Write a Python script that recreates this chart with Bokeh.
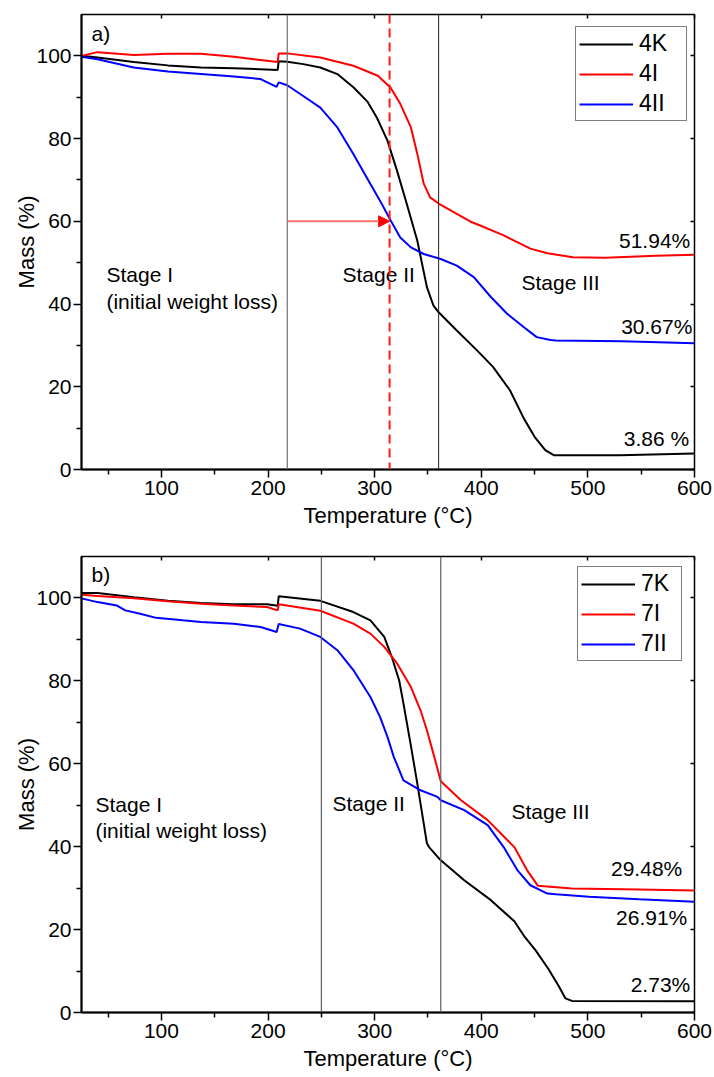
from bokeh.plotting import figure
from bokeh.models import (Span, Arrow, NormalHead, LinearAxis, Legend, LegendItem,
                          FixedTicker, Range1d, CustomJSTickFormatter)
from bokeh.layouts import column
from bokeh.embed import file_html
from bokeh.resources import INLINE
from bokeh.core.properties import value

FONT = "Liberation Sans"

# ---------------- data: panel a ----------------
x_4K = [25, 40, 74, 106, 137, 168, 209, 210, 218, 233, 249, 265, 280, 293, 302, 312, 321, 330,
        340, 344, 349, 355, 360, 377, 396, 411, 427, 440, 450, 460, 468, 530, 600]
y_4K = [100, 99.6, 98.5, 97.7, 97.2, 97.0, 96.6, 98.7, 98.6, 98.0, 97.2, 95.6, 92.4, 89.0, 85.1, 79.5,
        72.2, 64.3, 55.3, 50.3, 44.1, 39.7, 38.0, 33.6, 28.8, 24.8, 19.1, 12.3, 7.9, 4.7, 3.45, 3.45, 3.86]

x_4I = [25, 40, 59, 74, 106, 137, 168, 209, 210, 218, 249, 280, 303, 315, 324, 334, 340, 346, 352,
        360, 390, 399, 421, 446, 462, 486, 516, 564, 600]
y_4I = [100, 100.9, 100.5, 100.2, 100.5, 100.5, 99.8, 98.5, 100.6, 100.6, 99.6, 97.6, 95.2, 92.3, 88.4,
        82.7, 76.3, 69.1, 65.8, 64.3, 59.9, 59.0, 56.6, 53.4, 52.3, 51.3, 51.2, 51.7, 51.9]

x_4II = [25, 40, 74, 106, 137, 168, 193, 208, 210, 218, 233, 249, 265, 280, 296, 305, 315, 324, 334,
         346, 362, 377, 393, 409, 424, 440, 452, 465, 470, 532, 600]
y_4II = [99.8, 99.2, 97.2, 96.2, 95.6, 95.0, 94.4, 92.5, 93.6, 92.9, 90.3, 87.5, 82.7, 76.3, 69.0, 65.0,
         60.2, 56.1, 53.7, 52.1, 50.9, 49.3, 46.5, 41.7, 37.7, 34.4, 32.0, 31.3, 31.2, 31.0, 30.5]

# ---------------- data: panel b ----------------
x_7K = [25, 40, 74, 106, 137, 168, 199, 209, 210, 249, 280, 296, 309, 316, 323, 327, 334, 340, 343,
        349, 351, 362, 384, 409, 431, 440, 451, 463, 473, 479, 485, 600]
y_7K = [101.2, 101.2, 100.2, 99.3, 98.8, 98.5, 98.5, 98.1, 100.4, 99.3, 96.6, 94.6, 90.6, 85.8, 80.1,
        74.5, 64.3, 55.2, 50.4, 40.8, 39.9, 36.7, 31.9, 27.1, 22.0, 18.5, 15.0, 10.5, 6.2, 3.4, 2.8, 2.7]

x_7I = [25, 40, 74, 106, 137, 168, 199, 209, 210, 249, 280, 296, 309, 321, 334, 343, 349, 356, 362,
        381, 406, 431, 443, 453, 485, 548, 600]
y_7I = [100.8, 100.5, 99.9, 99.2, 98.6, 98.2, 97.8, 97.0, 98.5, 96.9, 93.8, 91.4, 88.2, 84.2, 78.5,
        72.9, 68.1, 61.6, 55.8, 51.2, 46.4, 39.9, 34.3, 30.6, 29.9, 29.7, 29.4]

x_7II = [25, 40, 58, 66, 80, 95, 120, 137, 168, 193, 208, 210, 230, 249, 265, 280, 296, 305, 312, 318,
         327, 343, 359, 362, 384, 406, 421, 434, 446, 462, 470, 501, 548, 600]
y_7II = [99.9, 99.0, 98.2, 97.0, 96.2, 95.2, 94.6, 94.2, 93.8, 93.0, 91.8, 93.7, 92.6, 90.6, 87.4, 82.6,
         76.1, 71.3, 66.5, 61.6, 56.0, 53.6, 52.0, 51.2, 48.8, 45.2, 39.9, 34.3, 30.7, 28.7, 28.5, 27.9,
         27.3, 26.7]

labels_a = ["4K", "4I", "4II"]
labels_b = ["7K", "7I", "7II"]
residue_a = ["51.94%", "30.67%", "3.86 %"]
residue_b = ["29.48%", "26.91%", "2.73%"]
stage_texts = ["Stage I", "(initial weight loss)", "Stage II", "Stage III"]

x_ticks = [100, 200, 300, 400, 500, 600]
x_minor = [50, 150, 250, 350, 450, 550]
y_ticks = [0, 20, 40, 60, 80, 100]
y_minor = [10, 30, 50, 70, 90]

# stage boundaries (°C)
bounds_a = [218, 360]
bounds_b = [250, 362]
onset_a = 314          # red dashed line
arrow_y = 60

COLORS = ["black", "#ff0000", "#0000ff"]
DY = 2.1  # baseline correction (data units)


def make_panel(series, border_top, border_bottom, height):
    p = figure(width=714, height=height, x_range=Range1d(25, 600), y_range=Range1d(0, 110),
               output_backend="svg", toolbar_location=None,
               min_border_left=81, min_border_right=20,
               min_border_top=border_top, min_border_bottom=border_bottom)
    p.xgrid.visible = False
    p.ygrid.visible = False
    p.outline_line_color = "black"
    p.outline_line_width = 1.5
    p.background_fill_color = "white"
    p.border_fill_color = "white"

    xa = p.xaxis[0]
    xa.ticker = FixedTicker(ticks=x_ticks, minor_ticks=x_minor)
    ya = p.yaxis[0]
    ya.ticker = FixedTicker(ticks=y_ticks, minor_ticks=y_minor)
    for ax in (xa, ya):
        ax.axis_line_width = 2
        ax.major_tick_line_width = 1.5
        ax.minor_tick_line_width = 1.5
        ax.major_tick_in = 0
        ax.major_tick_out = 8
        ax.minor_tick_in = 0
        ax.minor_tick_out = 5
        ax.major_label_text_font = FONT
        ax.major_label_text_font_size = "21px"
        ax.major_label_text_color = "black"
        ax.axis_label_text_font = FONT
        ax.axis_label_text_font_size = "22px"
        ax.axis_label_text_font_style = "normal"
        ax.axis_label_text_color = "black"
    xa.axis_label = "Temperature (°C)"
    xa.major_label_standoff = 3
    xa.axis_label_standoff = 5
    ya.axis_label = "Mass (%)"
    ya.major_label_standoff = 2
    ya.axis_label_standoff = -6

    # mirror axes without labels
    empty = CustomJSTickFormatter(code="return ''")
    top = LinearAxis(ticker=FixedTicker(ticks=x_ticks, minor_ticks=x_minor), formatter=empty,
                     axis_line_color=None, major_tick_in=4, major_tick_out=0,
                     minor_tick_in=0, minor_tick_out=0, major_label_text_font_size="1px",
                     major_tick_line_width=1.5)
    right = LinearAxis(ticker=FixedTicker(ticks=y_ticks, minor_ticks=y_minor), formatter=empty,
                       axis_line_color=None, major_tick_in=4, major_tick_out=0,
                       minor_tick_in=0, minor_tick_out=0, major_label_text_font_size="1px",
                       major_tick_line_width=1.5)
    p.add_layout(top, "above")
    p.add_layout(right, "right")

    renderers = []
    for (xs, ys), c in zip(series, COLORS):
        r = p.line(xs, ys, line_color=c, line_width=2)
        renderers.append(r)
    return p, renderers


def add_legend(p, renderers, labels, loc, lw):
    items = [LegendItem(label=l, renderers=[r]) for l, r in zip(labels, renderers)]
    leg = Legend(items=items, location=loc, margin=0, padding=3, spacing=3,
                 glyph_width=54, glyph_height=20, label_standoff=6, label_width=lw,
                 label_height=18,
                 label_text_font=FONT, label_text_font_size="23px",
                 label_text_line_height=1.0, label_text_color="black",
                 border_line_color="black", border_line_width=1.2,
                 background_fill_alpha=1.0)
    p.add_layout(leg)


def add_texts(p, xs, ys, texts, align, size):
    p.text(x=xs, y=[v + DY for v in ys], text=texts, text_font=value(FONT), text_font_size=size,
           text_align=align, text_baseline="alphabetic", text_color="black")


# ---------------- panel a ----------------
pa, ra = make_panel([(x_4K, y_4K), (x_4I, y_4I), (x_4II, y_4II)], 14, 71, 540)
pa.add_layout(Span(location=bounds_a[0], dimension="height", line_color="#707070", line_width=1.2))
pa.add_layout(Span(location=bounds_a[1], dimension="height", line_color="#202020", line_width=1))
pa.add_layout(Span(location=onset_a, dimension="height", line_color="#ff1a1a", line_width=2,
                   line_dash="9 5"))
pa.add_layout(Arrow(end=NormalHead(size=11, fill_color="#ff0000", line_color="#ff0000", line_width=1),
                    x_start=bounds_a[0], y_start=arrow_y, x_end=onset_a, y_end=arrow_y,
                    line_color="#ff7070", line_width=2))
add_legend(pa, ra, labels_a, (494, 348), 44)
add_texts(pa, [34.4], [103.4], ["a)"], "left", "21px")
add_texts(pa, [48.4, 48.4, 269.8, 437.7], [45.0, 38.4, 45.0, 43.1], stage_texts, "left", "21px")
add_texts(pa, [596, 598, 595], [53.2, 32.4, 5.5], residue_a, "right", "21px")

# ---------------- panel b ----------------
pb, rb = make_panel([(x_7K, y_7K), (x_7I, y_7I), (x_7II, y_7II)], 16, 65, 537)
pb.add_layout(Span(location=bounds_b[0], dimension="height", line_color="#606060", line_width=1.2))
pb.add_layout(Span(location=bounds_b[1], dimension="height", line_color="#606060", line_width=1.2))
add_legend(pb, rb, labels_b, (496, 351), 37)
add_texts(pb, [34.4], [103.6], ["b)"], "left", "21px")
add_texts(pb, [38.1, 38.1, 260.4, 428.3], [48.1, 41.8, 48.4, 46.5], stage_texts, "left", "21px")
add_texts(pb, [588.5, 593.2, 596], [32.7, 20.9, 4.7], residue_b, "right", "21px")

layout = column(pa, pb, spacing=0)
open("out.html", "w").write(file_html(layout, INLINE))
